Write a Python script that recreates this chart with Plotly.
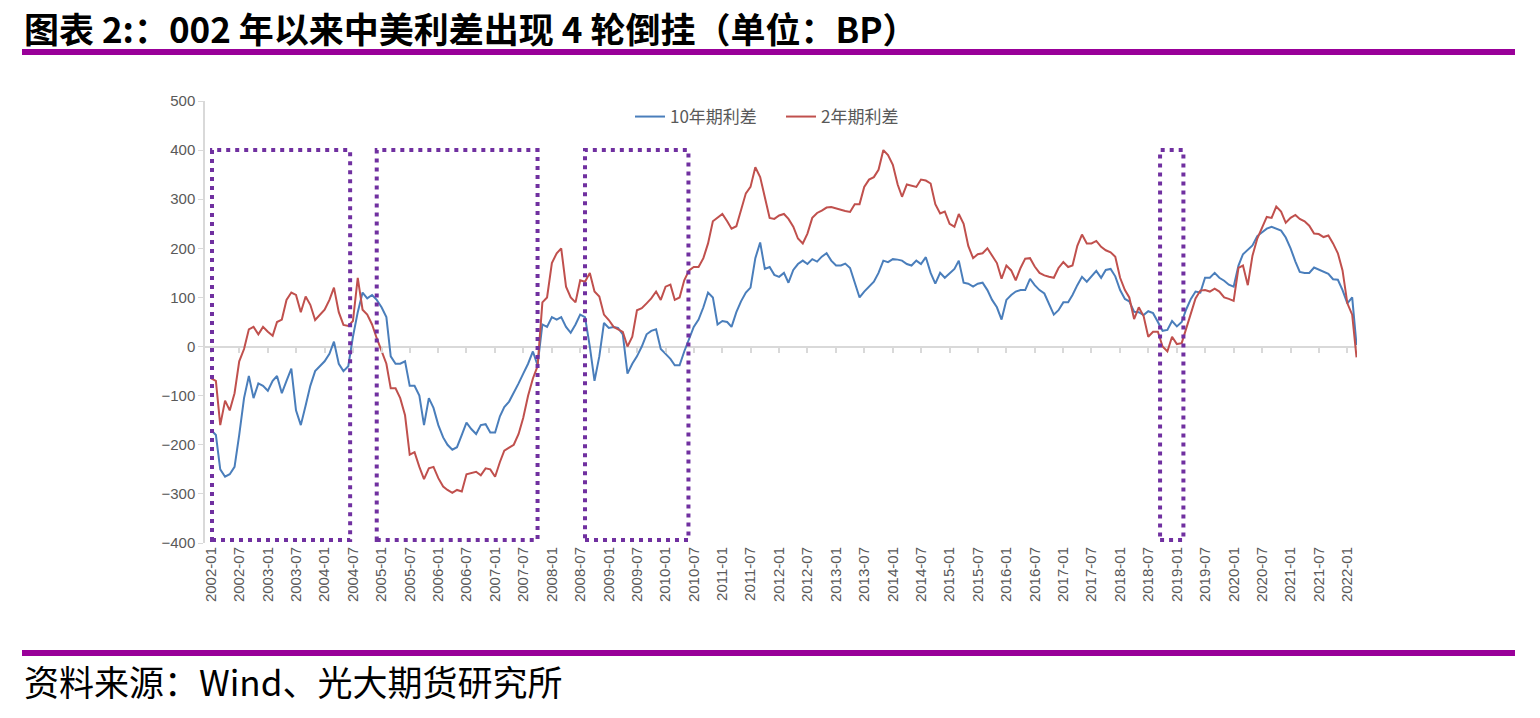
import pandas as pd
import plotly.graph_objects as go

# Monthly China-US spread readings (BP), 2002-01 .. 2022-03
spread_10y = [
    -170, -180, -250, -265, -260, -245, -180, -105, -60, -105, -75, -80,
    -90, -70, -60, -95, -70, -45, -130, -160, -120, -80, -50, -40,
    -30, -15, 10, -35, -50, -40, 20, 70, 110, 98, 105, 95,
    80, 60, -20, -35, -35, -30, -80, -80, -100, -160, -105, -125,
    -160, -185, -200, -210, -205, -180, -155, -168, -178, -160, -158, -175,
    -175, -142, -123, -112, -95, -75, -55, -35, -10, -38, 45, 40,
    60, 55, 60, 40, 28, 45, 65, 60, 0, -70, -20, 48,
    38, 40, 38, 25, -55, -35, -20, 0, 25, 32, 35, -5,
    -15, -25, -38, -38, -10, 15, 40, 55, 80, 110, 100, 45,
    52, 50, 40, 70, 92, 110, 120, 180, 212, 158, 162, 146,
    142, 150, 130, 156, 168, 175, 168, 178, 173, 183, 190, 175,
    165, 165, 169, 160, 132, 100, 112, 122, 132, 150, 175, 172,
    178, 177, 175, 168, 165, 175, 168, 182, 150, 128, 150, 140,
    150, 158, 175, 130, 128, 122, 128, 130, 115, 95, 80, 55,
    95, 105, 112, 115, 115, 138, 125, 115, 108, 86, 65, 74,
    90, 90, 105, 125, 142, 132, 142, 154, 140, 156, 158, 143,
    115, 97, 92, 71, 70, 64, 72, 68, 50, 32, 34, 52,
    41, 50, 75, 97, 112, 110, 140, 140, 150, 140, 134, 126,
    122, 165, 188, 198, 206, 225, 233, 240, 244, 240, 236, 222,
    200, 173, 152, 150, 150, 161, 157, 152, 148, 137, 136, 115,
    88, 100, 3,
]

spread_2y = [
    -65, -70, -160, -110, -130, -95, -30, -5, 35, 40, 25, 40,
    30, 22, 50, 55, 95, 110, 105, 70, 102, 85, 54, 65,
    75, 95, 120, 70, 44, 42, 52, 140, 75, 65, 45, 17,
    -10, -35, -85, -85, -105, -140, -220, -215, -245, -270, -248, -245,
    -268, -285, -292, -298, -292, -295, -260, -257, -255, -262, -248, -250,
    -265, -235, -212, -206, -200, -178, -145, -100, -65, -40, 90, 100,
    170, 190, 200, 122, 100, 90, 135, 132, 150, 112, 102, 65,
    54, 40, 36, 30, 0, 20, 74, 78, 88, 98, 112, 95,
    122, 126, 95, 100, 135, 155, 162, 162, 180, 210, 255, 262,
    270, 255, 240, 245, 280, 312, 325, 365, 345, 305, 262, 260,
    267, 270, 260, 244, 220, 210, 230, 262, 272, 277, 283, 284,
    281, 279, 276, 274, 290, 290, 325, 340, 345, 360, 400, 390,
    370, 330, 305, 330, 328, 325, 340, 338, 332, 290, 271, 275,
    250, 244, 270, 250, 205, 180, 188, 190, 200, 185, 170, 138,
    165, 155, 135, 160, 179, 180, 163, 150, 145, 142, 140, 160,
    172, 162, 165, 205, 228, 210, 210, 215, 203, 196, 192, 183,
    140, 115, 100, 56, 80, 62, 20, 30, 30, 0, -10, 20,
    5, 7, 35, 70, 98, 114, 115, 112, 118, 112, 100, 97,
    93, 160, 165, 125, 185, 220, 243, 264, 262, 285, 275, 252,
    262, 268, 260, 255, 246, 230, 229, 223, 226, 210, 190, 155,
    88, 65, -22,
]

dates = pd.date_range("2002-01-01", periods=len(spread_10y), freq="MS")

# the four inversion windows marked with dotted boxes
inversion_periods = [
    ("2002-01-07", "2004-06-13"),
    ("2004-12-01", "2007-10-01"),
    ("2008-08-01", "2010-05-28"),
    ("2018-09-15", "2019-02-12"),
]
box_low, box_high = -394, 400

series_names = ["10年期利差", "2年期利差"]
title_text = "图表 2:：002 年以来中美利差出现 4 轮倒挂（单位：BP）"
source_text = "资料来源：Wind、光大期货研究所"

# page / plot area in pixels
W, H = 1540, 718
L, R, T, B = 205, 1357, 101, 543


def px(x):
    return (x - L) / (R - L)


def py(y):
    return (B - y) / (B - T)


grey = "#595959"
tick_font = dict(family="Liberation Sans, Arial", size=15, color=grey)

fig = go.Figure()
fig.add_trace(go.Scatter(x=dates, y=spread_10y, mode="lines", name=series_names[0],
                         line=dict(color="#4A7EBB", width=2)))
fig.add_trace(go.Scatter(x=dates, y=spread_2y, mode="lines", name=series_names[1],
                         line=dict(color="#C0504D", width=2)))
# carrier for the tick marks that sit on the zero line
fig.add_trace(go.Scatter(x=[dates[0]], y=[None], xaxis="x2", showlegend=False,
                         hoverinfo="skip"))

for start, end in inversion_periods:
    fig.add_shape(type="rect", xref="x", yref="y", x0=start, x1=end,
                  y0=box_low, y1=box_high, layer="above",
                  line=dict(color="#7030A0", width=4, dash="4px,5px"))

for y in (52, 653):
    fig.add_shape(type="line", xref="paper", yref="paper",
                  x0=px(22), x1=px(1515), y0=py(y), y1=py(y),
                  line=dict(color="#990099", width=6))

fig.add_annotation(text=title_text, xref="paper", yref="paper", x=px(22), y=py(28),
                   xanchor="left", yanchor="middle", showarrow=False,
                   font=dict(family="Noto Sans CJK SC", size=35, color="black", weight="bold"))
fig.add_annotation(text=source_text, xref="paper", yref="paper", x=px(22), y=py(680),
                   xanchor="left", yanchor="middle", showarrow=False,
                   font=dict(family="Noto Sans CJK SC", size=35, color="black"))

x_range = ["2001-11-23", "2022-03-04"]
zero_pos = (0 - (-400)) / 900

fig.update_layout(
    width=W, height=H,
    margin=dict(l=L, r=W - R, t=T, b=H - B, pad=0),
    paper_bgcolor="white", plot_bgcolor="white",
    showlegend=True,
    legend=dict(orientation="h", x=px(630), y=py(117), xanchor="left", yanchor="middle",
                font=dict(family="Noto Sans CJK SC", size=17, color=grey),
                bgcolor="rgba(0,0,0,0)", itemwidth=30,
                entrywidth=106, entrywidthmode="pixels"),
    xaxis=dict(type="date", range=x_range, tickformat="%Y-%m", dtick="M6",
               tick0="2002-01-01", tickangle=-90, showgrid=False, showline=False,
               ticks="", zeroline=False, tickfont=tick_font),
    xaxis2=dict(type="date", range=x_range, overlaying="x", anchor="free",
                position=zero_pos, dtick="M6", tick0="2002-01-01",
                ticks="outside", ticklen=5, tickcolor="#D9D9D9", tickwidth=1.5,
                showticklabels=False, showgrid=False, showline=False, zeroline=False),
    yaxis=dict(range=[-400, 500], dtick=100, showgrid=False, showline=True,
               linecolor="#D9D9D9", linewidth=1.5, ticks="outside", ticklen=5,
               tickcolor="#D9D9D9", zeroline=True, zerolinecolor="#D9D9D9",
               zerolinewidth=2, tickfont=tick_font),
)

# drop the browser's default 8px body margin so the figure sits at the page origin
fig.write_html("out.html", config={"displayModeBar": False},
               post_script="document.body.style.margin='0';")
